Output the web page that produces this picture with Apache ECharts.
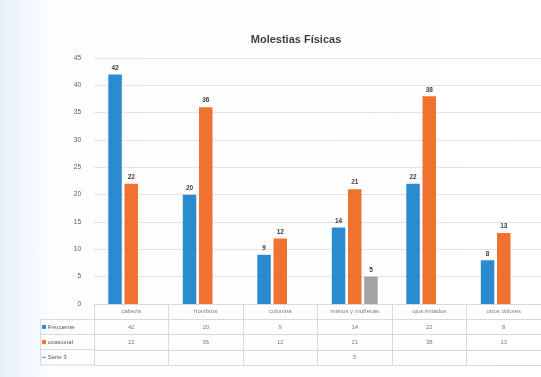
<!DOCTYPE html>
<html>
<head>
<meta charset="utf-8">
<script src="https://cdn.jsdelivr.net/npm/echarts@6/dist/echarts.min.js"></script>
<style>
  html, body { margin: 0; padding: 0; }
  body { background: linear-gradient(to right, #e6f1fa 0px, #f4f9fd 30px, #fdfdfd 55px, #ffffff 100%); }
  #chart { width: 541px; height: 377px; }
</style>
</head>
<body>
<div id="chart"></div>
<script>
// Molestias físicas: frecuencia por zona del cuerpo
const categories = ['cabeza', 'hombros', 'columna', 'manos y muñecas', 'ojos irritados', 'otros dolores'];
const frecuente = [42, 20, 9, 14, 22, 8];
const ocasional = [22, 36, 12, 21, 38, 13];
const serie3 = [null, null, null, 5, null, null];
const seriesNames = ['Frecuente', 'ocasional', 'Serie 3'];
const yTicks = { min: 0, max: 45, interval: 5 };

const colors = ['#2a8bce', '#ef7231', '#a3a3a3'];
const allValues = [frecuente, ocasional, serie3];
const textColor = '#595959';
const lineColor = '#d9d9d9';

const chart = echarts.init(document.getElementById('chart'));

// Bars in the upper grid
const barSeries = allValues.map((vals, i) => ({
  name: seriesNames[i],
  type: 'bar',
  xAxisIndex: 0,
  yAxisIndex: 0,
  data: vals,
  barWidth: 13.5,
  barGap: '20%',
  itemStyle: { color: colors[i] },
  label: {
    show: true,
    position: 'top',
    distance: 3,
    fontSize: 6.5,
    fontWeight: 'bold',
    color: '#404040',
    formatter: p => (p.value == null ? '' : p.value)
  }
}));

// Data table below the bars: header row with categories, then one row per series
const tableCell = {
  type: 'scatter',
  xAxisIndex: 1,
  yAxisIndex: 1,
  symbolSize: 0,
  silent: true,
  label: {
    show: true,
    position: 'inside',
    fontSize: 6,
    color: textColor,
    formatter: p => p.value[2]
  }
};
const headerSeries = Object.assign({}, tableCell, {
  data: categories.map((c, i) => [i, 0, c])
});
const rowSeries = allValues.map((vals, r) => Object.assign({}, tableCell, {
  data: vals.map((v, i) => (v == null ? null : [i, r + 1, v])).filter(d => d)
}));

const rowLabels = ['', ...seriesNames];

chart.setOption({
  animation: false,
  backgroundColor: 'transparent',
  title: {
    text: 'Molestias Físicas',
    left: 291,
    textAlign: 'center',
    top: 29,
    textStyle: { fontSize: 11, fontWeight: 'bold', color: '#404040', fontFamily: 'Liberation Sans' }
  },
  grid: [
    { left: 94, right: -8, top: 58, height: 246, containLabel: false },
    { left: 94, right: -8, top: 304, height: 61, containLabel: false }
  ],
  xAxis: [
    {
      type: 'category',
      gridIndex: 0,
      data: categories,
      axisLine: { show: false },
      axisTick: { show: false },
      axisLabel: { show: false }
    },
    {
      type: 'category',
      gridIndex: 1,
      data: categories,
      axisLine: { show: false },
      axisTick: { show: false },
      axisLabel: { show: false, interval: 0 },
      splitLine: { show: true, interval: 0, lineStyle: { color: lineColor, width: 1 } }
    }
  ],
  yAxis: [
    {
      type: 'value',
      gridIndex: 0,
      min: yTicks.min,
      max: yTicks.max,
      interval: yTicks.interval,
      axisLine: { show: false },
      axisTick: { show: false },
      axisLabel: { fontSize: 6.5, color: textColor, margin: 13 },
      splitLine: { lineStyle: { color: '#e3e3e3', width: 1 } }
    },
    {
      type: 'category',
      gridIndex: 1,
      inverse: true,
      data: rowLabels,
      axisLine: { show: false },
      axisTick: { show: false },
      splitLine: { show: true, interval: 0, lineStyle: { color: lineColor, width: 1 } },
      axisLabel: {
        interval: 0,
        align: 'left',
        margin: 52,
        fontSize: 6,
        color: textColor,
        formatter: (v, i) => {
          if (!v) return '';
          return '{k' + (i - 1) + '|}' + ' ' + v;
        },
        rich: {
          k0: { backgroundColor: colors[0], width: 4, height: 4 },
          k1: { backgroundColor: colors[1], width: 4, height: 4 },
          k2: { backgroundColor: colors[2], width: 4, height: 1.5 }
        }
      }
    }
  ],
  series: [...barSeries, headerSeries, ...rowSeries],
  graphic: [
    // borders of the legend column of the table
    { type: 'line', shape: { x1: 40, y1: 319.5, x2: 94, y2: 319.5 }, style: { stroke: lineColor, lineWidth: 1 } },
    { type: 'line', shape: { x1: 40, y1: 334.5, x2: 94, y2: 334.5 }, style: { stroke: lineColor, lineWidth: 1 } },
    { type: 'line', shape: { x1: 40, y1: 349.5, x2: 94, y2: 349.5 }, style: { stroke: lineColor, lineWidth: 1 } },
    { type: 'line', shape: { x1: 40, y1: 365, x2: 94, y2: 365 }, style: { stroke: lineColor, lineWidth: 1 } },
    { type: 'line', shape: { x1: 40.5, y1: 319.5, x2: 40.5, y2: 365 }, style: { stroke: lineColor, lineWidth: 1 } }
  ]
});
</script>
</body>
</html>
